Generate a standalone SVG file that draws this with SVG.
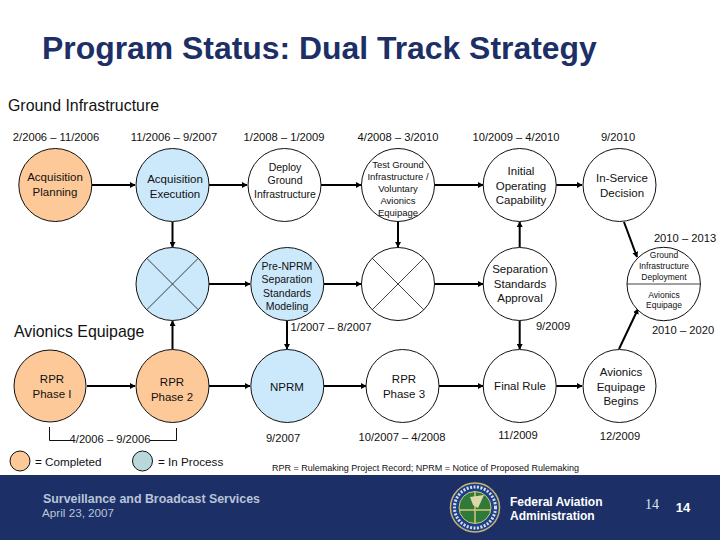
<svg xmlns="http://www.w3.org/2000/svg" width="720" height="540" viewBox="0 0 720 540">
<style>
text{font-family:"Liberation Sans",Arial,sans-serif;fill:#111;text-anchor:middle}
.n{stroke:#111;stroke-width:1;fill:#fff}
.o{fill:#fdc998}.b{fill:#cce8fb}
.t{font-size:11.5px}.d{font-size:11.2px}
.x{stroke:#111;stroke-width:.8;fill:none}
.c{stroke:#000;stroke-width:2;fill:none;marker-end:url(#a)}
.l{text-anchor:start}
</style>
<defs><marker id="a" markerUnits="userSpaceOnUse" markerWidth="6" markerHeight="6" refX="5" refY="3" orient="auto"><path d="M0,0L5.500,3L0,6z" fill="#000"/></marker></defs>
<rect width="720" height="540" fill="#fff"/>
<text class="l" x="42" y="58.500" font-size="31.900" font-weight="bold" style="fill:#1c2f66">Program Status: Dual Track Strategy</text>
<text class="l" x="8" y="111" font-size="15.900">Ground Infrastructure</text>
<text class="l" x="14" y="337" font-size="15.900" id="avi">Avionics Equipage</text>
<g class="d">
<text x="56" y="141">2/2006 – 11/2006</text><text x="174" y="141">11/2006 – 9/2007</text><text x="284" y="141">1/2008 – 1/2009</text><text x="398" y="141">4/2008 – 3/2010</text><text x="516" y="141">10/2009 – 4/2010</text><text x="618" y="141">9/2010</text>
<text x="685" y="242">2010 – 2013</text><text x="683" y="334">2010 – 2020</text><text x="553" y="330">9/2009</text><text x="331" y="331">1/2007 – 8/2007</text>
<text x="110" y="443">4/2006 – 9/2006</text><text x="283" y="442">9/2007</text><text x="402" y="441">10/2007 – 4/2008</text><text x="518" y="439">11/2009</text><text x="620" y="440">12/2009</text>
</g>
<g id="connectors">
<path class="c" d="M92,185H135"/><path class="c" d="M209,185H247"/><path class="c" d="M321,185H361"/><path class="c" d="M435,185H483"/><path class="c" d="M556,185H582"/>
<path class="c" d="M172.500,222V247"/><path class="c" d="M398,222V247"/>
<path class="c" d="M209,284H250"/><path class="c" d="M324,284H361"/><path class="c" d="M435,284H483"/>
<path class="c" d="M519.700,247V222"/><path class="c" d="M624,222L637,257"/>
<path class="c" d="M172.500,349V321"/><path class="c" d="M287,321V349"/><path class="c" d="M519.700,321V349"/><path class="c" d="M619,349L638,309"/>
<path class="c" d="M87,386H135"/><path class="c" d="M209,386H250"/><path class="c" d="M324,386H366"/><path class="c" d="M439,386H483"/><path class="c" d="M556,386H582"/>
<path d="M49.500,427V440.500H70M150,440.500H176.500V428" fill="none" stroke="#111"/>
</g>
<g id="acq-plan"><circle class="n o" cx="55.300" cy="185" r="36.500"/><text class="t"><tspan x="55" y="181">Acquisition</tspan><tspan x="55" y="196">Planning</tspan></text></g>
<g id="acq-exec"><circle class="n b" cx="172.500" cy="185" r="36.500"/><text class="t"><tspan x="175" y="183">Acquisition</tspan><tspan x="175" y="198">Execution</tspan></text></g>
<g id="deploy"><circle class="n" cx="284.500" cy="185" r="36.500"/><text style="font-size:10.500px"><tspan x="285" y="171">Deploy</tspan><tspan x="285" y="184">Ground</tspan><tspan x="285" y="198">Infrastructure</tspan></text></g>
<g id="test"><circle class="n" cx="398" cy="185" r="36.500"/><text style="font-size:9.500px"><tspan x="398" y="168">Test Ground</tspan><tspan x="398" y="180">Infrastructure /</tspan><tspan x="398" y="192">Voluntary</tspan><tspan x="398" y="204">Avionics</tspan><tspan x="398" y="216">Equipage</tspan></text></g>
<g id="ioc"><circle class="n" cx="519.700" cy="185" r="36.500"/><text class="t"><tspan x="521" y="175">Initial</tspan><tspan x="521" y="190">Operating</tspan><tspan x="521" y="204">Capability</tspan></text></g>
<g id="isd"><circle class="n" cx="619.500" cy="185" r="36.500"/><text class="t"><tspan x="622" y="182">In-Service</tspan><tspan x="622" y="197">Decision</tspan></text></g>
<g id="x1"><circle class="n b" cx="172.500" cy="284" r="36.500"/><path class="x" d="M146.700,258.200L198.300,309.800M198.300,258.200L146.700,309.800"/></g>
<g id="pre"><circle class="n b" cx="287.300" cy="284" r="36.500"/><text style="font-size:10.500px"><tspan x="287" y="270">Pre-NPRM</tspan><tspan x="287" y="283">Separation</tspan><tspan x="287" y="297">Standards</tspan><tspan x="287" y="310">Modeling</tspan></text></g>
<g id="x2"><circle class="n" cx="398" cy="284" r="36.500"/><path class="x" d="M372.200,258.200L423.800,309.800M423.800,258.200L372.200,309.800"/></g>
<g id="sep"><circle class="n" cx="519.700" cy="284" r="36.500"/><text class="t"><tspan x="520" y="273">Separation</tspan><tspan x="520" y="288">Standards</tspan><tspan x="520" y="302">Approval</tspan></text></g>
<g id="gid"><circle class="n" cx="663.700" cy="284" r="36.700"/><path class="x" d="M627,284H700.400"/><text style="font-size:8.500px"><tspan x="664" y="258">Ground</tspan><tspan x="664" y="269">Infrastructure</tspan><tspan x="664" y="280">Deployment</tspan><tspan x="664" y="298">Avionics</tspan><tspan x="664" y="308">Equipage</tspan></text></g>
<g id="rpr1"><circle class="n o" cx="50" cy="386" r="36"/><text class="t"><tspan x="52" y="383">RPR</tspan><tspan x="52" y="398">Phase I</tspan></text></g>
<g id="rpr2"><circle class="n o" cx="172.500" cy="386" r="36.500"/><text class="t"><tspan x="172" y="386">RPR</tspan><tspan x="172" y="401">Phase 2</tspan></text></g>
<g id="nprm"><circle class="n b" cx="287.300" cy="386" r="36.500"/><text class="t" x="287" y="391">NPRM</text></g>
<g id="rpr3"><circle class="n" cx="402.500" cy="386" r="36.500"/><text class="t"><tspan x="404" y="383">RPR</tspan><tspan x="404" y="398">Phase 3</tspan></text></g>
<g id="final"><circle class="n" cx="519.700" cy="386" r="36.500"/><text class="t" x="520" y="390">Final Rule</text></g>
<g id="begin"><circle class="n" cx="619.500" cy="386" r="36.500"/><text class="t"><tspan x="621" y="376">Avionics</tspan><tspan x="621" y="391">Equipage</tspan><tspan x="621" y="405">Begins</tspan></text></g>
<g id="legend"><circle class="n o" cx="20" cy="461" r="10"/><circle class="n" style="fill:#b8d8dc" cx="142.500" cy="461" r="10"/>
<text class="l" font-size="11.700" x="35" y="466">= Completed</text><text class="l" font-size="11.700" x="158" y="466">= In Process</text>
<text class="l" x="272" y="471" font-size="9">RPR = Rulemaking Project Record; NPRM = Notice of Proposed Rulemaking</text></g>
<rect y="475" width="720" height="65" fill="#1c2f66"/>
<text class="l" x="43" y="503" font-size="12.400" font-weight="bold" style="fill:#b9c4d8">Surveillance and Broadcast Services</text>
<text class="l" x="42" y="517" font-size="11.700" style="fill:#b9c4d8">April 23, 2007</text>
<g id="logo"><circle cx="475" cy="507.500" r="24.500" fill="#1c3f8a" stroke="#c9b36a" stroke-width="1.500"/><circle cx="475" cy="507.500" r="20.500" fill="none" stroke="#d5dbe8" stroke-width="3" stroke-dasharray="2 1.500"/><circle cx="475" cy="507.500" r="16" fill="#2f7a3a" stroke="#d9c777"/><path d="M475,492V523M460,510H490" stroke="#d9c777" stroke-width="1.500"/><path d="M470,497L484,495L478,508L473,505z" fill="#dcd9a8"/></g>
<text class="l" x="510" y="505.500" font-size="12" font-weight="bold" style="fill:#fff">Federal Aviation</text>
<text class="l" x="510" y="519.500" font-size="12" font-weight="bold" style="fill:#fff">Administration</text>
<text x="652" y="509" font-size="14" style="fill:#dfe4ee;font-family:'Liberation Serif',serif">14</text>
<text x="683" y="512" font-size="13" font-weight="bold" style="fill:#fff">14</text>
</svg>
